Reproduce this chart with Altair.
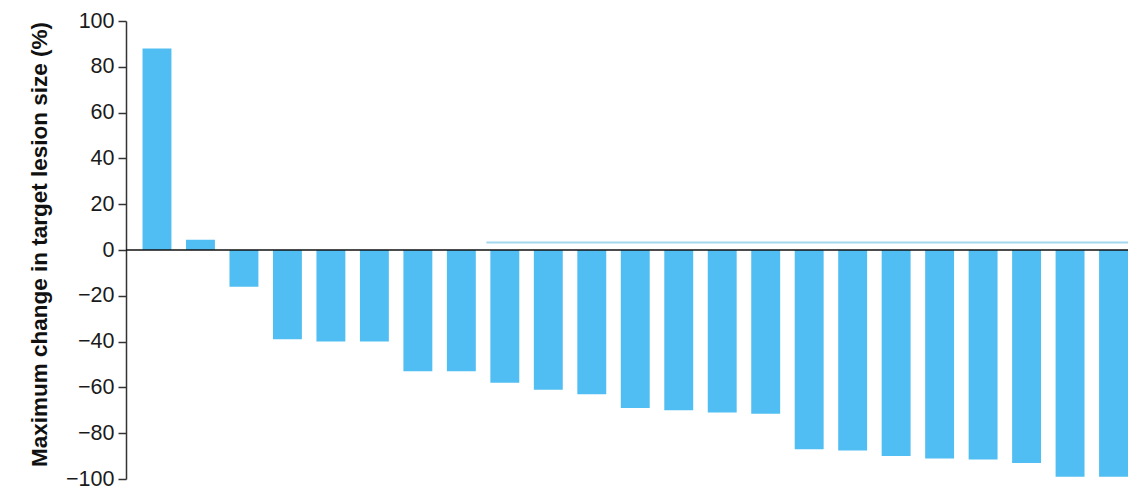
import altair as alt
import pandas as pd

patients = [f"P{i:02d}" for i in range(1, 24)]
changes = [88, 4.5, -16, -39, -40, -40, -53, -53, -58, -61, -63, -69, -70,
           -71, -71.5, -87, -87.5, -90, -91, -91.5, -93, -99, -99]
y_ticks = [-100, -80, -60, -40, -20, 0, 20, 40, 60, 80, 100]

df = pd.DataFrame({"patient": patients, "change": changes})
zero_df = pd.DataFrame({"y": [0]})
line_df = pd.DataFrame({"patient": [patients[8]], "y": [3.3]})

W, H = 1002, 458
bar_color = "#50BEF2"

xscale = alt.Scale(domain=patients, paddingInner=0.335, paddingOuter=0.19, align=1)
yscale = alt.Scale(domain=[-100, 100], nice=False, zero=False)

bars = alt.Chart(df).mark_bar(color=bar_color).encode(
    x=alt.X("patient:N", scale=xscale, axis=None, sort=None),
    y=alt.Y(
        "change:Q",
        scale=yscale,
        axis=alt.Axis(
            values=y_ticks,
            title="Maximum change in target lesion size (%)",
            titleFont="Liberation Sans",
            titleFontSize=22.5,
            titleFontWeight="bold",
            titleColor="#111111",
            titleAngle=-90,
            titleAlign="center",
            titleBaseline="middle",
            titleX=-87,
            titleY=H / 2 - 6,
            labelFont="Liberation Sans",
            labelFontSize=21.5,
            labelColor="#1a1a1a",
            labelPadding=4,
            labelExpr="datum.value < 0 ? '\u2212' + abs(datum.value) : datum.label",
            tickSize=8,
            tickColor="#333333",
            tickWidth=1.5,
            domainColor="#333333",
            domainWidth=1.5,
            grid=False,
        ),
    ),
    y2=alt.datum(0),
)

zero_rule = alt.Chart(zero_df).mark_rule(color="#111111", strokeWidth=1.5).encode(
    y=alt.Y("y:Q", scale=yscale),
    x=alt.value(0),
    x2=alt.value(W),
)

light_line = alt.Chart(line_df).mark_rule(color="#A3D8EE", strokeWidth=2).encode(
    x=alt.X("patient:N", scale=xscale, bandPosition=0),
    x2=alt.value(W + 5),
    y=alt.Y("y:Q", scale=yscale),
    xOffset=alt.value(-4),
)

chart = alt.layer(bars, light_line, zero_rule).properties(
    width=W,
    height=H,
    autosize=alt.AutoSizeParams(type="none"),
    padding={"left": 126, "top": 21, "right": 0, "bottom": 10},
    background="white",
).configure_view(stroke=None)

chart.save("out.html", embed_options={"renderer": "svg", "actions": False})
